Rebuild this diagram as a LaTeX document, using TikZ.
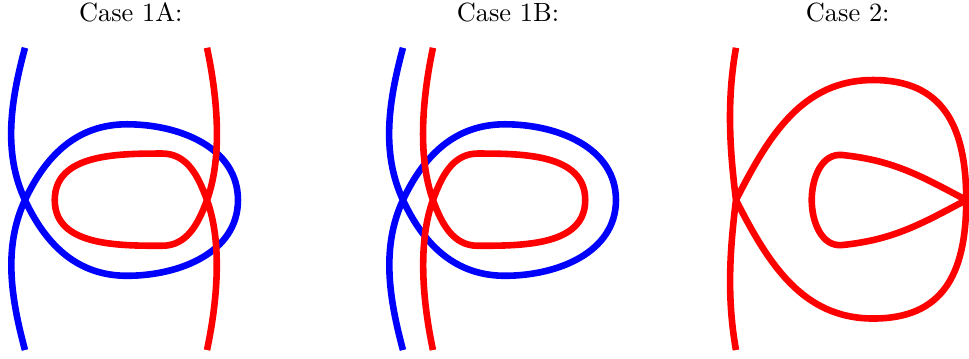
\documentclass[tikz,border=0pt]{standalone}
\usepackage{tikz}

\begin{document}
\begin{tikzpicture}[
      bline/.style={draw=blue, line width=2.5pt},
      rline/.style={draw=red, line width=2.5pt},
      case/.style={inner sep=0pt}]
  \useasboundingbox (-0.333,-2.107) rectangle (12.587,2.667);
  \node[case] (c1a) at (1.41,2.5) {Case 1A:};
  \node[case] (c1b) at (6.44,2.5) {Case 1B:};
  \node[case] (c2) at (10.97,2.5) {Case 2:};
  % case 1A
  \draw[bline] (0,2.03) to[out=-105,in=115,looseness=0.9] (0,0)
    to[out=-65,in=180] (1.36,-1.01) to[out=0,in=-90] (2.84,0) to[out=90,in=0] (1.36,1.01)
    to[out=180,in=65] (0,0) to[out=-115,in=105,looseness=0.9] (0,-2.0);
  \begin{scope}[shift={(2.427,0)}]
    \draw[rline] (0,2.03) to[out=-78,in=70,looseness=0.8] (0,0)
      to[out=-110,in=0] (-0.6,-0.61) to[out=180,in=-90] (-2.03,0) to[out=90,in=180] (-0.6,0.62)
      to[out=0,in=110] (0,0) to[out=-70,in=78,looseness=0.8] (0,-2.0);
  \end{scope}
  % case 1B
  \begin{scope}[shift={(5.04,0)}]
    \draw[bline] (0,2.03) to[out=-105,in=115,looseness=0.9] (0,0)
      to[out=-65,in=180] (1.36,-1.01) to[out=0,in=-90] (2.84,0) to[out=90,in=0] (1.36,1.01)
      to[out=180,in=65] (0,0) to[out=-115,in=105,looseness=0.9] (0,-2.0);
  \end{scope}
  \begin{scope}[shift={(5.44,0)}]
    \draw[rline] (0,2.03) to[out=-102,in=110,looseness=0.8] (0,0)
      to[out=-70,in=180] (0.6,-0.61) to[out=0,in=-90] (2.03,0) to[out=90,in=0] (0.6,0.62)
      to[out=180,in=70] (0,0) to[out=-110,in=102,looseness=0.8] (0,-2.0);
  \end{scope}
  % case 2
  \begin{scope}[shift={(9.48,0)}]
    \draw[rline] (0,2.03) to[out=-100,in=97,looseness=0.9] (0,0)
      to[out=-97,in=100,looseness=0.9] (0,-2.0);
    \draw[rline] (0,0) to[out=63,in=180] (1.83,1.6)
      .. controls (2.75,1.6) and (3.07,1.0) .. (3.07,0)
      .. controls (3.07,-1.0) and (2.75,-1.58) .. (1.83,-1.58)
      to[out=180,in=-63] (0,0);
    \draw[rline] (3.07,0) to[out=152,in=-6] (1.42,0.6) to[out=174,in=90] (1.01,0)
      to[out=-90,in=186] (1.42,-0.6) to[out=6,in=-152] (3.07,0);
  \end{scope}
\end{tikzpicture}
\end{document}
